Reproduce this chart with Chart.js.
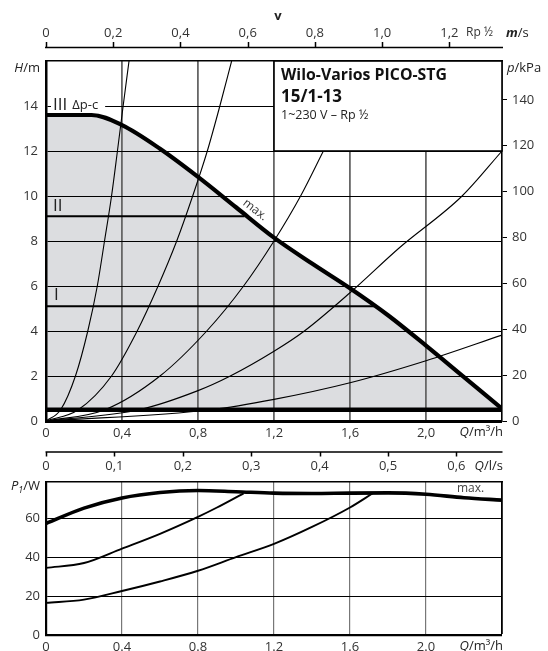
<!DOCTYPE html>
<html>
<head>
<meta charset="utf-8">
<title>Wilo-Varios PICO-STG 15/1-13</title>
<script src="https://cdn.jsdelivr.net/npm/chart.js@4/dist/chart.umd.min.js"></script>
<style>
  html, body { margin:0; padding:0; background:#fff; }
  #wrap { position:relative; width:548px; height:651px; overflow:hidden; background:#fff; }
  canvas { position:absolute; left:0; display:block; }
  #c1 { top:0; width:548px; height:440px; }
  #c2 { top:440px; width:548px; height:211px; }
</style>
</head>
<body>
<div id="wrap">
  <canvas id="c1" width="548" height="440"></canvas>
  <canvas id="c2" width="548" height="211"></canvas>
</div>
<script>
// ================= DATA =================
// axis ticks / labels
const qGridTicks    = [0, 0.4, 0.8, 1.2, 1.6, 2.0, 2.4];
const qLabelsTop    = ['0', '0,4', '0,8', '1,2', '1,6', '2,0', ''];
const qLabelsBottom = ['0', '0.4', '0.8', '1.2', '1.6', '2.0', ''];
const hTicks   = [0, 2, 4, 6, 8, 10, 12, 14, 16];
const hLabels  = ['0', '2', '4', '6', '8', '10', '12', '14', ''];
const kpaTicks = [0, 20, 40, 60, 80, 100, 120, 140];
const vTicks   = [0, 0.2, 0.4, 0.6, 0.8, 1.0, 1.2];
const vLabels  = ['0', '0,2', '0,4', '0,6', '0,8', '1,0', '1,2'];
const lsTicks  = [0, 0.1, 0.2, 0.3, 0.4, 0.5, 0.6];
const lsLabels = ['0', '0,1', '0,2', '0,3', '0,4', '0,5', '0,6'];
const pTicks   = [0, 20, 40, 60];
const pLabels  = ['0', '20', '40', '60'];

// axis ranges
const Q_MAX = 2.4;          // m³/h
const H_MAX = 16;           // m
const KPA_PER_M = 9.81;     // kPa per m
const V_PER_Q = 0.5652;     // m/s per m³/h (Rp 1/2)
const LS_PER_Q = 1 / 3.6;   // l/s per m³/h
const P_MAX = 78.6;         // W

// head curve "max." (Q m³/h, H m)
const maxQ = [0, 0.24, 0.4, 0.6, 0.8, 1.0, 1.2, 1.4, 1.6, 1.8, 2.0, 2.2, 2.4];
const maxH = [13.6, 13.6, 13.15, 12.1, 10.85, 9.5, 8.15, 7.0, 5.9, 4.7, 3.35, 1.95, 0.55];
// minimum line
const minQ = [0, 2.4];
const minH = [0.5, 0.5];
// Δp-c settings II and I
const dpc2Q = [0, 1.045];
const dpc2H = [9.1, 9.1];
const dpc1Q = [0, 1.73];
const dpc1H = [5.1, 5.1];
// system curves
const sysAQ = [0, 0.077, 0.155, 0.22, 0.27, 0.308, 0.345, 0.376, 0.406, 0.437];
const sysAH = [0, 0.5, 2, 4, 6, 8, 10, 12, 14, 16];
const sysBQ = [0, 0.17, 0.345, 0.48, 0.59, 0.688, 0.772, 0.849, 0.915, 0.977];
const sysBH = [0, 0.5, 2, 4, 6, 8, 10, 12, 14, 16];
const sysCQ = [0, 0.31, 0.6, 0.846, 1.04, 1.2, 1.34, 1.46];
const sysCH = [0, 0.5, 2, 4, 6, 8, 10, 12];
const sysDQ = [0, 0.49, 0.8, 0.97, 1.2, 1.36, 1.6, 1.86, 2.19, 2.4];
const sysDH = [0, 0.5, 1.35, 2, 3.1, 4, 5.7, 7.7, 10, 12];
const sysEQ = [0, 0.87, 1.2, 1.6, 2.0, 2.4];
const sysEH = [0, 0.5, 0.96, 1.7, 2.68, 3.82];

// power curves (Q m³/h, P1 W)
const pMaxQ = [0, 0.2, 0.4, 0.6, 0.8, 1.0, 1.2, 1.4, 1.6, 1.8, 2.0, 2.2, 2.4];
const pMaxW = [57.3, 65.2, 70.4, 73.2, 74.2, 73.6, 72.9, 72.7, 72.9, 73.0, 72.3, 70.5, 69.3];
const p2Q = [0, 0.2, 0.4, 0.6, 0.8, 0.9, 1.04];
const p2W = [34.5, 37, 44.4, 52, 60.7, 65.5, 72.8];
const p1Q = [0, 0.2, 0.4, 0.6, 0.8, 1.0, 1.2, 1.4, 1.6, 1.72];
const p1W = [16.5, 18.2, 22.6, 27.5, 33, 40, 46.8, 55.5, 65.5, 72.8];

// ================= STYLE / HELPERS =================
const FAM = '"Open Sans", "DejaVu Sans", sans-serif';
const TXT = '#333';
const FS = 13;
Chart.defaults.font.family = FAM;
Chart.defaults.font.size = FS;
Chart.defaults.color = TXT;

const pts = (xs, ys) => xs.map((x, i) => ({ x: x, y: ys[i] }));
function lineDs(xs, ys, w, extra) {
  return Object.assign({
    data: pts(xs, ys), borderColor: '#000', borderWidth: w, pointRadius: 0,
    fill: false, cubicInterpolationMode: 'monotone', borderCapStyle: 'butt', borderJoinStyle: 'round'
  }, extra || {});
}
const setTicks = arr => scale => { scale.ticks = arr.map(v => ({ value: v })); };
const isEdge = (v, lo, hi) => Math.abs(v - lo) < 1e-9 || Math.abs(v - hi) < 1e-9;

function fontFor(style, size) {
  if (style === 'i') return `italic ${size}px ${FAM}`;
  if (style === 'bi') return `italic bold ${size}px ${FAM}`;
  if (style === 'sub') return `italic ${Math.round(size * 0.72)}px ${FAM}`;
  if (style === 'b') return `bold ${size}px ${FAM}`;
  return `${size}px ${FAM}`;
}
function rich(ctx, parts, x, y, align, size, color) {
  ctx.save();
  ctx.fillStyle = color || '#222';
  ctx.textBaseline = 'middle';
  ctx.textAlign = 'left';
  const ws = parts.map(p => { ctx.font = fontFor(p[1], size); return ctx.measureText(p[0]).width; });
  const total = ws.reduce((s, w) => s + w, 0);
  let cx = align === 'right' ? x - total : align === 'center' ? x - total / 2 : x;
  parts.forEach((p, i) => {
    ctx.font = fontFor(p[1], size);
    ctx.fillText(p[0], cx, y + (p[1] === 'sub' ? size * 0.28 : 0));
    cx += ws[i];
  });
  ctx.restore();
  return total;
}

// ================= TOP CHART (H / Q) =================
const deco1 = {
  id: 'deco1',
  afterDatasetsDraw(chart) {
    const { ctx, chartArea: a, scales: { x, y } } = chart;
    ctx.save();
    // labels for control modes
    const y14 = y.getPixelForValue(14);
    ctx.font = `17px ${FAM}`;
    const wIII = ctx.measureText('III').width;
    ctx.font = `13px ${FAM}`;
    const wDp = ctx.measureText('Δp-c').width;
    ctx.fillStyle = '#fff';
    ctx.fillRect(a.left + 5, y14 - 3, wIII + wDp + 14, 6);
    ctx.fillStyle = '#222';
    ctx.textBaseline = 'middle';
    ctx.font = `17px ${FAM}`;
    ctx.fillText('III', a.left + 7, y14 - 1);
    ctx.font = `13px ${FAM}`;
    ctx.fillText('Δp-c', a.left + 7 + wIII + 5, y14 - 1);
    ctx.font = `17px ${FAM}`;
    ctx.fillText('II', a.left + 7, y.getPixelForValue(9.1) - 10);
    ctx.fillText('I', a.left + 8, y.getPixelForValue(5.1) - 11);
    // "max." along the curve
    ctx.save();
    ctx.translate(x.getPixelForValue(1.1), y.getPixelForValue(9.38));
    ctx.rotate(38 * Math.PI / 180);
    ctx.font = `12px ${FAM}`;
    ctx.fillStyle = '#333';
    ctx.textAlign = 'center';
    ctx.fillText('max.', 0, 0);
    ctx.restore();
    // type box
    const bx = x.getPixelForValue(1.2), by = y.getPixelForValue(12);
    ctx.fillStyle = '#fff';
    ctx.fillRect(bx, a.top, a.right - bx, by - a.top);
    ctx.strokeStyle = '#000';
    ctx.lineWidth = 1.6;
    ctx.strokeRect(bx, a.top, a.right - bx, by - a.top);
    ctx.fillStyle = '#111';
    ctx.textBaseline = 'alphabetic';
    ctx.font = `bold 16.5px ${FAM}`;
    ctx.fillText('Wilo-Varios PICO-STG', bx + 7, a.top + 18.5, 166);
    ctx.font = `bold 17px ${FAM}`;
    ctx.fillText('15/1-13', bx + 7, a.top + 40.5, 61);
    ctx.font = `12.5px ${FAM}`;
    ctx.fillStyle = '#222';
    ctx.fillText('1~230 V – Rp ½', bx + 7, a.top + 57.5, 97);
    ctx.restore();
  },
  afterDraw(chart) {
    const { ctx, chartArea: a, scales: { v } } = chart;
    ctx.save();
    // velocity axis line with ticks
    const yl = a.top - 13.5;
    ctx.strokeStyle = '#000';
    ctx.lineWidth = 1.5;
    ctx.beginPath();
    ctx.moveTo(a.left - 1, yl);
    ctx.lineTo(a.right + 1, yl);
    vTicks.forEach(t => {
      const px = Math.round(v.getPixelForValue(t)) + 0.5;
      ctx.moveTo(px, yl);
      ctx.lineTo(px, yl - 5.5);
    });
    ctx.stroke();
    ctx.restore();
    rich(ctx, [['v', 'b']], (a.left + a.right) / 2 + 4, a.top - 45, 'center', 13, '#222');
    rich(ctx, [['Rp ½', '']], a.right - 36, a.top - 28, 'left', 12, '#333');
    rich(ctx, [['m', 'bi'], ['/s', '']], a.right + 4, a.top - 28, 'left', 13, '#222');
    rich(ctx, [['H', 'i'], ['/m', '']], a.left - 6, a.top + 7, 'right', 13, '#222');
    rich(ctx, [['p', 'i'], ['/kPa', '']], a.right + 5, a.top + 7, 'left', 13, '#222');
    rich(ctx, [['Q', 'i'], ['/m³/h', '']], a.right + 1, a.bottom + 11.7, 'right', 13, '#222');
  }
};

new Chart(document.getElementById('c1'), {
  type: 'line',
  data: {
    datasets: [
      lineDs(maxQ, maxH, 4.2, { fill: { value: 0.5 }, backgroundColor: '#dcdde0' }),
      lineDs(minQ, minH, 4.5, { cubicInterpolationMode: 'default', tension: 0 }),
      lineDs(dpc2Q, dpc2H, 2.2, { cubicInterpolationMode: 'default', tension: 0 }),
      lineDs(dpc1Q, dpc1H, 2.2, { cubicInterpolationMode: 'default', tension: 0 }),
      lineDs(sysAQ, sysAH, 1.1),
      lineDs(sysBQ, sysBH, 1.1),
      lineDs(sysCQ, sysCH, 1.1),
      lineDs(sysDQ, sysDH, 1.1),
      lineDs(sysEQ, sysEH, 1.1)
    ]
  },
  options: {
    responsive: false, animation: false, devicePixelRatio: 1,
    layout: { padding: 0 },
    plugins: { legend: { display: false }, tooltip: { enabled: false }, filler: { drawTime: 'beforeDraw' } },
    scales: {
      x: {
        type: 'linear', position: 'bottom', min: 0, max: Q_MAX,
        afterBuildTicks: setTicks(qGridTicks),
        afterFit: s => { s.height = 19; },
        ticks: { callback: (val, i) => qLabelsTop[i], padding: 4, maxRotation: 0, minRotation: 0, autoSkip: false },
        grid: {
          drawTicks: false,
          color: c => (c.tick && isEdge(c.tick.value, 0, Q_MAX)) ? 'rgba(0,0,0,0)' : '#666',
          lineWidth: c => (c.tick && isEdge(c.tick.value, 0, Q_MAX)) ? 0 : 1.8
        },
        border: { display: true, color: '#000', width: 3 }
      },
      v: {
        type: 'linear', position: 'top', min: 0, max: Q_MAX * V_PER_Q,
        afterBuildTicks: setTicks(vTicks),
        afterFit: s => { s.height = 61; },
        ticks: { callback: (val, i) => vLabels[i], padding: 20, maxRotation: 0, minRotation: 0, autoSkip: false },
        grid: { display: true, drawOnChartArea: false, drawTicks: false },
        border: { display: true, color: '#000', width: 1.6 }
      },
      y: {
        type: 'linear', position: 'left', min: 0, max: H_MAX,
        afterBuildTicks: setTicks(hTicks),
        afterFit: s => { s.width = 46; },
        ticks: { callback: (val, i) => hLabels[i], padding: 8, autoSkip: false },
        grid: {
          drawTicks: false,
          color: c => (c.tick && isEdge(c.tick.value, 0, H_MAX)) ? 'rgba(0,0,0,0)' : '#000',
          lineWidth: c => (c.tick && isEdge(c.tick.value, 0, H_MAX)) ? 0 : 1
        },
        border: { display: true, color: '#000', width: 2.5 }
      },
      kpa: {
        type: 'linear', position: 'right', min: 0, max: H_MAX * KPA_PER_M,
        afterBuildTicks: setTicks(kpaTicks),
        afterFit: s => { s.width = 46; },
        ticks: { padding: 5, autoSkip: false, callback: v => String(v) },
        grid: { display: true, drawOnChartArea: false, drawTicks: true, tickLength: 5, color: '#000', lineWidth: 1 },
        border: { display: true, color: '#000', width: 1.6 }
      }
    }
  },
  plugins: [deco1]
});

// ================= BOTTOM CHART (P1 / Q) =================
const deco2 = {
  id: 'deco2',
  afterDraw(chart) {
    const { ctx, chartArea: a, scales: { ls } } = chart;
    ctx.save();
    const yl = a.top - 30;
    ctx.strokeStyle = '#000';
    ctx.lineWidth = 1.5;
    ctx.beginPath();
    ctx.moveTo(a.left - 0.5, yl);
    ctx.lineTo(a.right + 0.5, yl);
    lsTicks.forEach(t => {
      const px = Math.round(ls.getPixelForValue(t)) + 0.5;
      ctx.moveTo(px, yl);
      ctx.lineTo(px, yl + 4.5);
    });
    ctx.stroke();
    ctx.restore();
    rich(ctx, [['Q', 'i'], ['/l/s', '']], a.right + 1, a.top - 16, 'right', 13, '#222');
    rich(ctx, [['P', 'i'], ['1', 'sub'], ['/W', '']], a.left - 6, a.top + 4.7, 'right', 13, '#222');
    rich(ctx, [['Q', 'i'], ['/m³/h', '']], a.right + 1, a.bottom + 11.7, 'right', 13, '#222');
    rich(ctx, [['max.', '']], a.right - 45, a.top + 7, 'left', 12, '#444');
  }
};

new Chart(document.getElementById('c2'), {
  type: 'line',
  data: {
    datasets: [
      lineDs(pMaxQ, pMaxW, 3.6),
      lineDs(p2Q, p2W, 1.9),
      lineDs(p1Q, p1W, 1.9)
    ]
  },
  options: {
    responsive: false, animation: false, devicePixelRatio: 1,
    layout: { padding: { left: 0, right: 46, top: 0, bottom: 0 } },
    plugins: { legend: { display: false }, tooltip: { enabled: false } },
    scales: {
      x: {
        type: 'linear', position: 'bottom', min: 0, max: Q_MAX,
        afterBuildTicks: setTicks(qGridTicks),
        afterFit: s => { s.height = 16; },
        ticks: { callback: (val, i) => qLabelsBottom[i], padding: 4, maxRotation: 0, minRotation: 0, autoSkip: false },
        grid: {
          drawTicks: false,
          color: c => {
            if (!c.tick) return '#777';
            if (Math.abs(c.tick.value) < 1e-9) return 'rgba(0,0,0,0)';
            if (Math.abs(c.tick.value - Q_MAX) < 1e-9) return '#000';
            return '#777';
          },
          lineWidth: c => {
            if (!c.tick) return 1.2;
            if (Math.abs(c.tick.value) < 1e-9) return 0;
            if (Math.abs(c.tick.value - Q_MAX) < 1e-9) return 1.8;
            return 1.2;
          }
        },
        border: { display: true, color: '#000', width: 2.2 }
      },
      ls: {
        type: 'linear', position: 'top', min: 0, max: Q_MAX * LS_PER_Q,
        afterBuildTicks: setTicks(lsTicks),
        afterFit: s => { s.height = 42; },
        ticks: { callback: (val, i) => lsLabels[i], padding: 8.2, maxRotation: 0, minRotation: 0, autoSkip: false },
        grid: { display: true, drawOnChartArea: false, drawTicks: false },
        border: { display: true, color: '#000', width: 1.6 }
      },
      y: {
        type: 'linear', position: 'left', min: 0, max: P_MAX,
        afterBuildTicks: setTicks(pTicks),
        afterFit: s => { s.width = 46; },
        ticks: { callback: (val, i) => pLabels[i], padding: 6, autoSkip: false },
        grid: {
          drawTicks: false,
          color: c => (c.tick && Math.abs(c.tick.value) < 1e-9) ? 'rgba(0,0,0,0)' : '#000',
          lineWidth: c => (c.tick && Math.abs(c.tick.value) < 1e-9) ? 0 : 1
        },
        border: { display: true, color: '#000', width: 2.2 }
      }
    }
  },
  plugins: [deco2]
});
</script>
</body>
</html>
